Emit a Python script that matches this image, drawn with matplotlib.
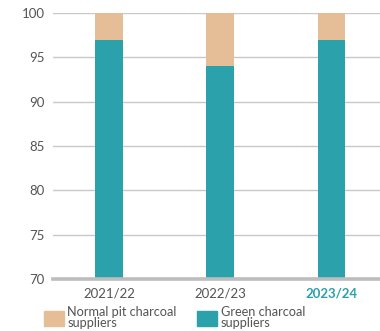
import matplotlib
matplotlib.use("Agg")
import matplotlib.pyplot as plt
from matplotlib.patches import Patch

years = ["2021/22", "2022/23", "2023/24"]
green = [97, 94, 97]
normal = [3, 6, 3]

TEAL = "#2aa1ab"
TAN = "#e5be98"
GREY = "#555555"

plt.rcParams["font.family"] = ["Lato", "DejaVu Sans"]

fig = plt.figure(figsize=(3.8, 3.31), dpi=100)
ax = fig.add_axes([0.139, 0.157, 0.861, 0.804])

x = list(range(len(years)))
ax.bar(x, green, width=0.245, color=TEAL, zorder=3)
ax.bar(x, normal, bottom=green, width=0.245, color=TAN, zorder=3)

ax.set_ylim(70, 100)
ax.set_xlim(-0.505, 2.44)
ax.set_yticks(range(70, 101, 5))
ax.yaxis.grid(True, color="#c8c8c8", lw=1, zorder=0)
ax.axhline(70, color="#bdbdbd", lw=2.6, zorder=4, clip_on=False)
for s in ax.spines.values():
    s.set_visible(False)
ax.tick_params(axis="y", length=0, pad=6, labelsize=9.5, labelcolor=GREY)
ax.tick_params(axis="x", length=0, pad=6, labelsize=9.5, labelcolor=GREY)
ax.set_xticks(x)
ax.set_xticklabels(years)
last = ax.get_xticklabels()[-1]
last.set_color(TEAL)
last.set_fontweight("bold")

handles = [Patch(color=TAN, label="Normal pit charcoal\nsuppliers"),
           Patch(color=TEAL, label="Green charcoal\nsuppliers")]
leg = fig.legend(handles=handles, loc="lower left", bbox_to_anchor=(0.085, -0.03), ncol=2,
                 frameon=False, fontsize=9.2, labelcolor=GREY, handlelength=1.55,
                 handleheight=1.5, handletextpad=0.3, columnspacing=1.6, labelspacing=0.2)
for t in leg.get_texts():
    t.set_linespacing(0.95)

fig.savefig("out.png", dpi=100)
